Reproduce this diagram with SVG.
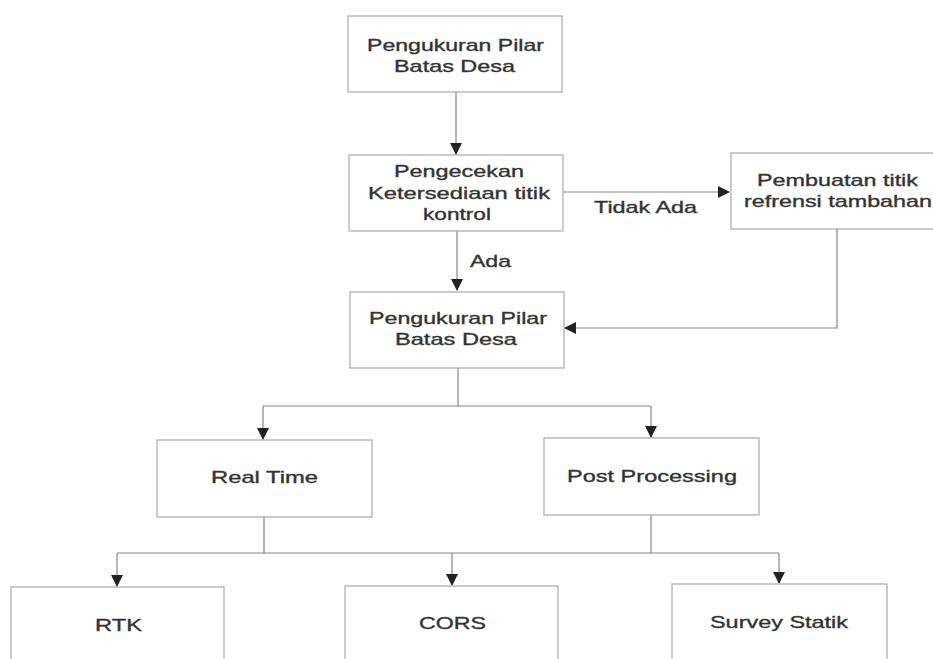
<svg xmlns="http://www.w3.org/2000/svg" width="933" height="659" viewBox="0 0 933 659">
<style>
.box{fill:#ffffff;stroke:#a8a8a8;stroke-width:1.2}
.t{font-family:"Liberation Sans",Arial,sans-serif;font-size:17px;fill:#333333;stroke:#333333;stroke-width:0.35}
.c{fill:none;stroke:#858585;stroke-width:1.2}
</style>
<defs>
<marker id="ah" markerUnits="userSpaceOnUse" markerWidth="12" markerHeight="12" refX="11" refY="6" orient="auto">
<path d="M0,0 L12,6 L0,12 z" fill="#222222"/>
</marker>
</defs>
<rect width="933" height="659" fill="#ffffff"/>
<g id="connectors">
<path class="c" d="M456,92 V154" marker-end="url(#ah)"/>
<path class="c" d="M563,192 H729" marker-end="url(#ah)"/>
<path class="c" d="M457,231 V290" marker-end="url(#ah)"/>
<path class="c" d="M837,229 V328 H565" marker-end="url(#ah)"/>
<path class="c" d="M458,368 V406 M263,406 H651"/>
<path class="c" d="M263,406 V439" marker-end="url(#ah)"/>
<path class="c" d="M651,406 V437" marker-end="url(#ah)"/>
<path class="c" d="M264,517 V553 M651,515 V553 M117,553 H779"/>
<path class="c" d="M117,553 V586" marker-end="url(#ah)"/>
<path class="c" d="M452,553 V585" marker-end="url(#ah)"/>
<path class="c" d="M779,553 V583" marker-end="url(#ah)"/>
<text class="t" x="594" y="213" textLength="103" lengthAdjust="spacingAndGlyphs">Tidak Ada</text>
<text class="t" x="470" y="267" textLength="41" lengthAdjust="spacingAndGlyphs">Ada</text>
</g>
<g id="n1">
<rect class="box" x="348" y="16" width="214" height="76"/>
<text class="t" x="367" y="51" textLength="177" lengthAdjust="spacingAndGlyphs">Pengukuran Pilar</text>
<text class="t" x="394" y="72" textLength="121" lengthAdjust="spacingAndGlyphs">Batas Desa</text>
</g>
<g id="n2">
<rect class="box" x="349" y="155" width="214" height="76"/>
<text class="t" x="394" y="177" textLength="130" lengthAdjust="spacingAndGlyphs">Pengecekan</text>
<text class="t" x="368" y="199" textLength="182" lengthAdjust="spacingAndGlyphs">Ketersediaan titik</text>
<text class="t" x="423" y="220" textLength="68" lengthAdjust="spacingAndGlyphs">kontrol</text>
</g>
<g id="n3">
<rect class="box" x="731" y="153" width="215" height="76"/>
<text class="t" x="757" y="186" textLength="161" lengthAdjust="spacingAndGlyphs">Pembuatan titik</text>
<text class="t" x="744" y="207" textLength="188" lengthAdjust="spacingAndGlyphs">refrensi tambahan</text>
</g>
<g id="n4">
<rect class="box" x="350" y="292" width="214" height="76"/>
<text class="t" x="369" y="324" textLength="178" lengthAdjust="spacingAndGlyphs">Pengukuran Pilar</text>
<text class="t" x="395" y="345" textLength="122" lengthAdjust="spacingAndGlyphs">Batas Desa</text>
</g>
<g id="n5">
<rect class="box" x="157" y="440" width="215" height="77"/>
<text class="t" x="211" y="483" textLength="107" lengthAdjust="spacingAndGlyphs">Real Time</text>
</g>
<g id="n6">
<rect class="box" x="544" y="438" width="215" height="77"/>
<text class="t" x="567" y="482" textLength="170" lengthAdjust="spacingAndGlyphs">Post Processing</text>
</g>
<g id="n7">
<rect class="box" x="11" y="587" width="213" height="80"/>
<text class="t" x="95" y="631" textLength="47" lengthAdjust="spacingAndGlyphs">RTK</text>
</g>
<g id="n8">
<rect class="box" x="345" y="586" width="213" height="80"/>
<text class="t" x="419" y="629" textLength="67" lengthAdjust="spacingAndGlyphs">CORS</text>
</g>
<g id="n9">
<rect class="box" x="672" y="584" width="215" height="82"/>
<text class="t" x="710" y="628" textLength="138" lengthAdjust="spacingAndGlyphs">Survey Statik</text>
</g>
</svg>
